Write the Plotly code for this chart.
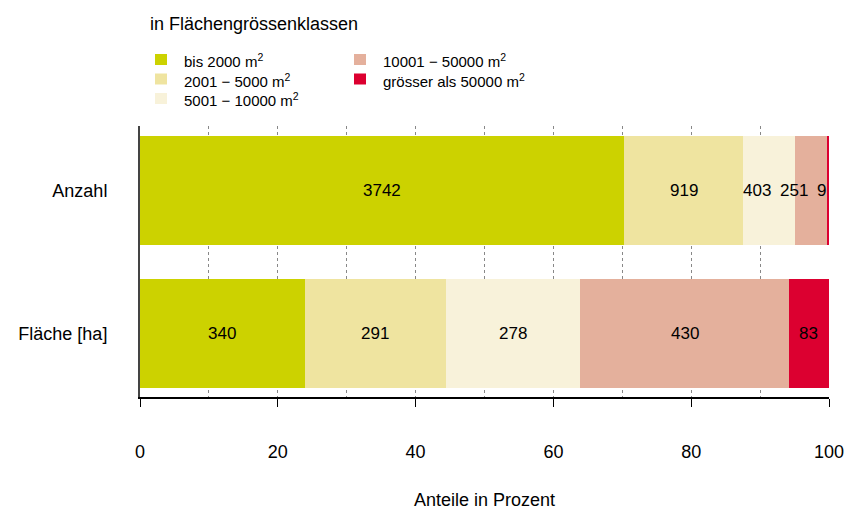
import plotly.graph_objects as go

# Counts per size class (Anzahl) and area in ha (Fläche)
categories = ["Anzahl", "Fläche [ha]"]
classes = [
    "bis 2000 m<sup>2</sup>",
    "2001 − 5000 m<sup>2</sup>",
    "5001 − 10000 m<sup>2</sup>",
    "10001 − 50000 m<sup>2</sup>",
    "grösser als 50000 m<sup>2</sup>",
]
anzahl = [3742, 919, 403, 251, 9]
flaeche = [340, 291, 278, 430, 83]
colors = ["#CCD200", "#EFE4A0", "#F8F2DA", "#E4B09C", "#DC0030"]

# small label nudges where segments are too narrow (pixels)
label_shift = {"Anzahl": [0, 0, -12, -18, -7], "Fläche [ha]": [0, 0, 0, 0, 0]}

FONT = "Liberation Sans, Arial, sans-serif"

# figure geometry in pixels
W, H = 847, 510
L, R, T, B = 140, 18, 126, 113
PW, PH = W - L - R, H - T - B


def px(x):
    return (x - L) / PW


def py(y):
    return (H - B - y) / PH


rows = {"Anzahl": anzahl, "Fläche [ha]": flaeche}
pct = {k: [v / sum(vals) * 100 for v in vals] for k, vals in rows.items()}

fig = go.Figure()
for i, cls in enumerate(classes):
    fig.add_trace(go.Bar(
        y=categories,
        x=[pct[c][i] for c in categories],
        name=cls,
        orientation="h",
        marker=dict(color=colors[i], line=dict(width=0)),
        showlegend=False,
        hovertemplate="%{y}: %{x:.1f}%<extra></extra>",
    ))

# value labels in the segments
for c in categories:
    start = 0.0
    for i, v in enumerate(rows[c]):
        p = pct[c][i]
        fig.add_annotation(
            x=start + p / 2, y=c, text=str(v), showarrow=False,
            xshift=label_shift[c][i],
            font=dict(size=17, color="black", family=FONT),
        )
        start += p

# legend drawn by hand: two columns (3 + 2 entries)
col_x = [155, 354]
row_y = [59.5, 79, 98.5]
for i, cls in enumerate(classes):
    cx = col_x[0] if i < 3 else col_x[1]
    cy = row_y[i if i < 3 else i - 3]
    fig.add_shape(
        type="rect", xref="paper", yref="paper",
        x0=px(cx), x1=px(cx + 12), y0=py(cy - 5.5), y1=py(cy + 5.5),
        fillcolor=colors[i], line=dict(width=0), layer="above",
    )
    fig.add_annotation(
        xref="paper", yref="paper", x=px(cx + 27), y=py(cy + 1),
        xanchor="left", yanchor="middle", text=cls, showarrow=False,
        font=dict(size=15, color="black", family=FONT),
    )

fig.update_layout(
    barmode="stack",
    bargap=0.238,
    width=W, height=H,
    margin=dict(l=L, r=R, t=T, b=B, autoexpand=False),
    plot_bgcolor="white", paper_bgcolor="white",
    font=dict(family=FONT, color="black"),
    title=dict(
        text="in Flächengrössenklassen",
        x=150 / W, xanchor="left", xref="container",
        y=1 - 24 / H, yanchor="middle", yref="container",
        font=dict(size=18, family=FONT, color="black"),
    ),
    showlegend=False,
    xaxis=dict(
        range=[0, 100], dtick=20, tick0=0,
        showline=True, linecolor="black", linewidth=1.5,
        ticks="outside", ticklen=8, tickcolor="black", tickwidth=1,
        showgrid=True, gridcolor="#888888", griddash="dot", gridwidth=1,
        minor=dict(dtick=10, showgrid=True, gridcolor="#888888", griddash="dot", gridwidth=1),
        zeroline=False,
        tickfont=dict(size=18, family=FONT),
        ticklabelstandoff=30,
        title=dict(text="Anteile in Prozent", font=dict(size=18, family=FONT), standoff=32),
        fixedrange=True,
    ),
    yaxis=dict(
        type="category", categoryorder="array", categoryarray=categories,
        range=[1.444, -0.451],
        showline=True, linecolor="#444444", linewidth=2,
        ticks="", showgrid=False, zeroline=False,
        tickfont=dict(size=18, family=FONT),
        ticklabelstandoff=27,
        fixedrange=True,
    ),
)

# drop the browser's default body margin so the figure fills the window
fig.write_html(
    "out.html",
    config={"displayModeBar": False},
    post_script="document.body.style.margin='0';",
)
